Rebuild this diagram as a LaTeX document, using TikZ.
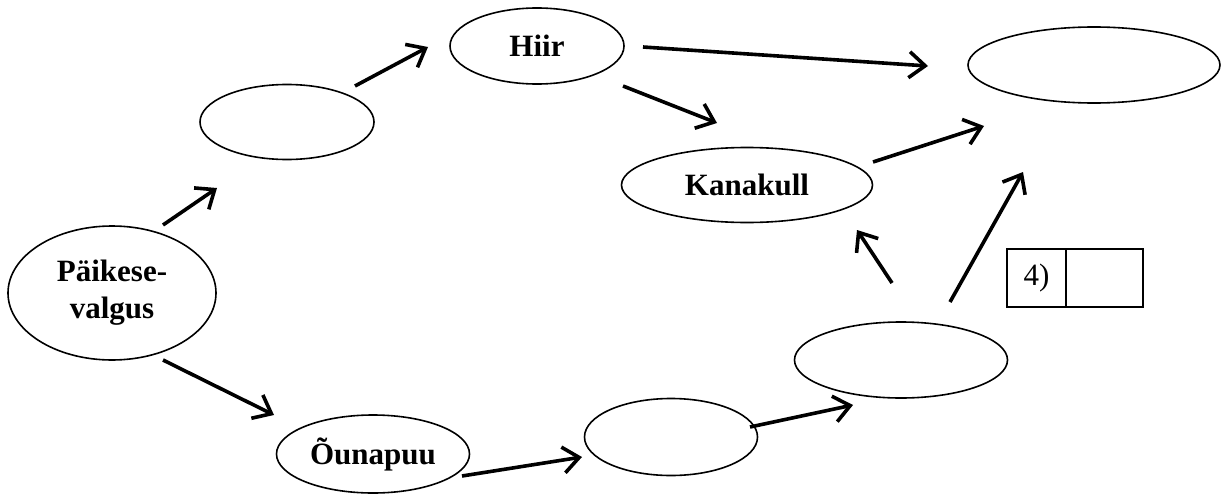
\documentclass[tikz,border=0pt]{standalone}
\usepackage{fontspec}
\setmainfont{Liberation Serif}
\usetikzlibrary{shapes.geometric,arrows.meta}
\begin{document}
\begin{tikzpicture}[x=1pt,y=-1pt,
  oval/.style={draw, ellipse, line width=1.6pt, inner sep=0pt, align=center,
    font=\fontsize{31}{37}\selectfont\bfseries},
  arr/.style={line width=3.6pt, -{Straight Barb[length=16pt,width=26pt]}},
  cell/.style={draw, line width=1.6pt, minimum height=58pt, inner sep=0pt,
    font=\fontsize{31}{37}\selectfont}]
\useasboundingbox (0,0) rectangle (1223,495);

\node[oval, minimum width=208pt, minimum height=134pt] (sun) at (112,293) {Päikese-\\valgus};
\node[oval, minimum width=174pt, minimum height=75pt] (e1) at (287,122) {};
\node[oval, minimum width=174pt, minimum height=76pt] (hiir) at (537,46) {Hiir};
\node[oval, minimum width=252pt, minimum height=76pt] (tr) at (1094,65) {};
\node[oval, minimum width=251pt, minimum height=75pt] (kana) at (747,185) {Kanakull};
\node[oval, minimum width=193pt, minimum height=78pt] (oun) at (373,454) {Õunapuu};
\node[oval, minimum width=173pt, minimum height=77pt] (bm) at (671,437) {};
\node[oval, minimum width=213pt, minimum height=76pt] (r) at (901,360) {};

\node[cell, minimum width=59pt] (c1) at (1036.5,278) {4)};
\node[cell, minimum width=77pt] (c2) at (1104.5,278) {};

\coordinate (a1s) at (163,225);  \coordinate (a1e) at (217,188);
\coordinate (a2s) at (355,86);   \coordinate (a2e) at (428,47);
\coordinate (a3s) at (643,47);   \coordinate (a3e) at (928,66);
\coordinate (a4s) at (623,86);   \coordinate (a4e) at (717,123);
\coordinate (a5s) at (873,162);  \coordinate (a5e) at (984,126);
\coordinate (a6s) at (163,360);  \coordinate (a6e) at (274,415);
\coordinate (a7s) at (462,476);  \coordinate (a7e) at (582,457);
\coordinate (a8s) at (750,427);  \coordinate (a8e) at (853,405);
\coordinate (a9s) at (892,283);  \coordinate (a9e) at (857,230);
\coordinate (a10s) at (950,302); \coordinate (a10e) at (1023,172);

\foreach \i in {1,...,10} {\draw[arr] (a\i s) -- (a\i e);}
\end{tikzpicture}
\end{document}
